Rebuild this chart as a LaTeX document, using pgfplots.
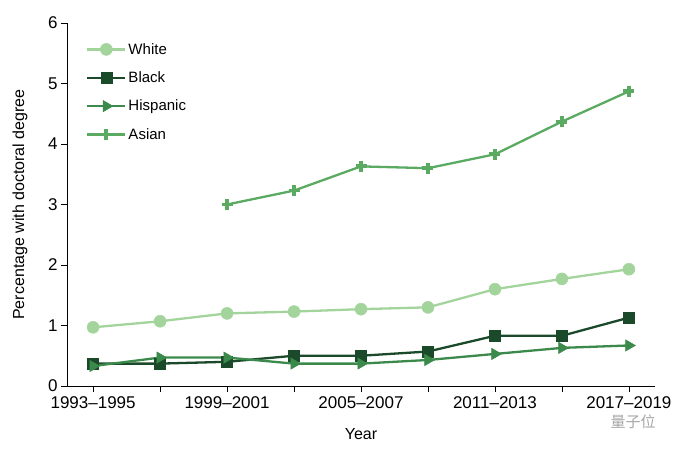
\documentclass[border=0pt]{standalone}
\usepackage{fontspec}
\setmainfont{Liberation Sans}
\newfontfamily\cjk{Noto Sans CJK SC}
\usepackage{pgfplots}
\pgfplotsset{compat=1.18}
\definecolor{cWhite}{HTML}{A3D49C}
\definecolor{cBlack}{HTML}{1B4A2A}
\definecolor{cHisp}{HTML}{3B8A4B}
\definecolor{cAsian}{HTML}{5BAA61}
\begin{document}
\begin{tikzpicture}
\useasboundingbox (-67pt,-66pt) rectangle (613pt,386pt);
\begin{axis}[
  scale only axis, width=588pt, height=363pt,
  at={(0,0)}, anchor=south west,
  xmin=-0.39, xmax=8.39, ymin=0, ymax=6,
  axis x line*=bottom, axis y line*=left,
  axis line style={black, line width=0.7pt},
  xtick={0,1,2,3,4,5,6,7,8},
  xticklabels={1993--1995,,1999--2001,,2005--2007,,2011--2013,,2017--2019},
  ytick={0,1,2,3,4,5,6},
  tick align=outside, major tick length=6pt,
  tick style={black, line width=0.7pt},
  /pgf/number format/assume math mode=true,
  tick label style={font=\fontsize{17}{19}\selectfont},
  xticklabel style={yshift=-1pt},
  xlabel={Year}, ylabel={Percentage with doctoral degree},
  label style={font=\fontsize{16}{18}\selectfont},
  xlabel style={at={(axis description cs:0.5,0)}, anchor=center, yshift=-48pt},
  ylabel style={at={(axis description cs:0,0.5)}, anchor=center, rotate=0, yshift=47pt},
  legend style={draw=none, fill=none, at={(0,1)}, anchor=north west,
    xshift=16pt, yshift=-16pt, font=\fontsize{15}{17}\selectfont,
    row sep=12pt, cells={anchor=west, inner xsep=5pt}},
  legend cell align=left,
  legend image code/.code={\draw[mark repeat=2,mark phase=2] plot coordinates {(0pt,0pt) (19pt,0pt) (38pt,0pt)};},
  every axis plot/.append style={line width=2.3pt},
]
\addplot[color=cWhite, mark=*, mark size=6pt, mark options={line width=0.5pt}] coordinates {
(0,0.97) (1,1.07) (2,1.20) (3,1.23) (4,1.27) (5,1.30) (6,1.60) (7,1.77) (8,1.93)};
\addlegendentry{White}
\addplot[color=cBlack, mark=square*, mark size=5.5pt, mark options={line width=0.5pt}] coordinates {
(0,0.37) (1,0.37) (2,0.40) (3,0.50) (4,0.50) (5,0.57) (6,0.83) (7,0.83) (8,1.13)};
\addlegendentry{Black}
\addplot[color=cHisp, mark=triangle*, mark size=6.5pt, mark options={rotate=-90, line width=0.5pt}] coordinates {
(0,0.33) (1,0.47) (2,0.47) (3,0.37) (4,0.37) (5,0.43) (6,0.53) (7,0.63) (8,0.67)};
\addlegendentry{Hispanic}
\addplot[color=cAsian, mark=+, mark size=5.5pt, mark options={line width=3.8pt}] coordinates {
(2,3.00) (3,3.23) (4,3.63) (5,3.60) (6,3.83) (7,4.37) (8,4.87)};
\addlegendentry{Asian}
\end{axis}
\node[anchor=center, text=black!35, font=\cjk\fontsize{15}{17}\selectfont] at (566pt,-36pt) {量子位};
\end{tikzpicture}
\end{document}
